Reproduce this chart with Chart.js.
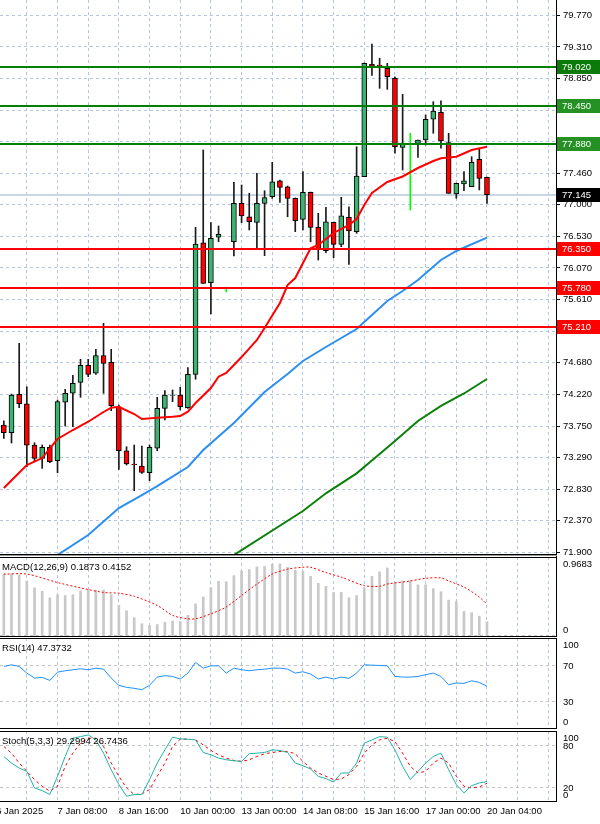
<!DOCTYPE html>
<html>
<head>
<meta charset="utf-8">
<script src="https://cdn.jsdelivr.net/npm/chart.js@4.4.1/dist/chart.umd.min.js"></script>
<style>
  body { margin: 0; background: #fff; width: 600px; height: 824px; overflow: hidden; position: relative; }
  canvas { position: absolute; left: 0; }
</style>
</head>
<body>
<canvas id="mainChart" width="600" height="560" style="top:0"></canvas>
<canvas id="macdChart" width="600" height="80" style="top:557px"></canvas>
<canvas id="rsiChart" width="600" height="91" style="top:638px"></canvas>
<canvas id="stochChart" width="600" height="93" style="top:731px"></canvas>
<script>
// 4H candles, one per bar slot (slot 0 = first visible bar)
const opens = [73.769, 73.656, 74.219, 74.081, 73.476, 73.281, 73.442, 73.246, 74.102, 74.234,
  74.395, 74.644, 74.527, 74.785, 74.688, 74.037, 73.392, 73.198, 73.168, 73.070,
  73.428, 74.014, 74.204, 74.209, 74.023, 74.512, 76.440, 75.854, 76.520, 75.718,
  76.455, 77.018, 76.821, 76.739, 77.018, 77.115, 77.349, 77.261, 77.091, 76.783,
  77.179, 76.666, 76.323, 76.739, 76.417, 76.813, 76.602, 77.408, 79.055, 79.044,
  78.996, 78.850, 77.838, 77.897, 77.897, 77.945, 78.249, 78.351, 77.906, 77.154,
  77.301, 77.261, 77.663, 77.399]
const highs = [73.832, 74.223, 74.966, 74.330, 73.510, 73.476, 73.476, 74.135, 74.292, 74.497,
  74.732, 74.732, 74.878, 75.259, 74.878, 74.062, 73.451, 73.476, 73.461, 73.476,
  74.175, 74.272, 74.282, 74.321, 74.609, 76.666, 77.799, 76.734, 76.685, 75.791,
  77.326, 77.286, 77.164, 77.457, 77.202, 77.619, 77.359, 77.271, 77.096, 77.481,
  77.183, 76.871, 76.959, 76.744, 77.106, 76.968, 77.847, 79.074, 79.352, 79.143,
  79.069, 78.873, 78.615, 78.044, 77.945, 78.312, 78.507, 78.521, 78.044, 77.315,
  77.481, 77.701, 77.809, 77.403]
const lows = [73.574, 73.505, 74.023, 73.158, 73.231, 73.134, 73.217, 73.070, 73.754, 73.744,
  74.175, 74.477, 74.512, 74.234, 73.979, 73.120, 73.183, 72.806, 73.061, 72.953,
  73.392, 73.842, 74.111, 73.989, 74.014, 74.439, 75.845, 75.396, 76.455, 75.718,
  76.246, 76.734, 76.627, 76.358, 76.250, 77.091, 77.032, 76.821, 76.602, 76.627,
  76.455, 76.187, 76.294, 76.221, 76.382, 76.124, 76.578, 77.408, 78.891, 78.703,
  78.688, 77.751, 77.506, 76.920, 77.692, 77.872, 78.044, 77.824, 77.164, 77.091,
  77.202, 77.261, 77.213, 77.018]
const closes = [73.656, 74.209, 74.081, 73.472, 73.281, 73.442, 73.231, 74.111, 74.234, 74.380,
  74.644, 74.512, 74.785, 74.673, 74.052, 73.392, 73.198, 73.189, 73.076, 73.442,
  74.014, 74.209, 74.209, 74.037, 74.512, 76.421, 75.845, 76.505, 76.564, 75.718,
  77.018, 76.832, 76.748, 77.018, 77.100, 77.334, 77.252, 77.091, 76.763, 77.179,
  76.666, 76.348, 76.748, 76.417, 76.836, 76.612, 77.418, 79.069, 79.030, 79.034,
  78.873, 77.847, 77.897, 77.897, 77.945, 78.249, 78.370, 77.931, 77.164, 77.311,
  77.349, 77.619, 77.384, 77.145]

// moving averages, read at the bars where they could be measured
const redMaBars = [0, 3, 5, 7, 9, 11, 13, 14, 15, 17, 18, 20, 22, 23, 24, 25, 27, 28, 29, 31,
  33, 34, 36, 37, 38, 40, 41, 43, 45, 46, 47, 48, 50, 52, 54, 56, 57, 59, 61, 63]
const redMa = [72.846, 73.183, 73.285, 73.564, 73.696, 73.817, 73.960, 74.023, 74.037, 73.930,
  73.857, 73.876, 73.891, 73.901, 73.964, 74.091, 74.311, 74.477, 74.531, 74.765,
  75.015, 75.190, 75.557, 75.821, 75.923, 76.358, 76.407, 76.583, 76.700, 76.788,
  76.993, 77.169, 77.330, 77.411, 77.535, 77.638, 77.677, 77.701, 77.799, 77.847]
const blueMaBars = [7, 11, 15, 18, 20, 24, 26, 30, 34, 37, 39, 42, 46, 50, 52, 54, 57, 59, 63]
const blueMa = [71.864, 72.157, 72.553, 72.743, 72.875, 73.154, 73.403, 73.798, 74.253, 74.516,
  74.707, 74.912, 75.176, 75.586, 75.733, 75.894, 76.187, 76.319, 76.514]
const greenMaBars = [30, 39, 42, 46, 49, 51, 54, 57, 60, 63]
const greenMa = [71.864, 72.509, 72.768, 73.061, 73.344, 73.535, 73.828, 74.048, 74.231, 74.443]

const resistanceLevels = [79.02, 78.45, 77.88]
const supportLevels = [76.35, 75.78, 75.21]
const lastPrice = 77.145
const priceTicks = [79.77, 79.31, 78.85, 78.38, 77.92, 77.46, 77.00, 76.53, 76.07, 75.61,
  75.14, 74.68, 74.22, 73.75, 73.29, 72.83, 72.37, 71.90]

const macdHist = [0.81, 0.81, 0.80, 0.72, 0.63, 0.585, 0.50, 0.54, 0.53, 0.54,
  0.59, 0.61, 0.60, 0.60, 0.54, 0.40, 0.33, 0.24, 0.16, 0.14,
  0.15, 0.18, 0.195, 0.19, 0.27, 0.42, 0.51, 0.63, 0.715, 0.71,
  0.79, 0.85, 0.87, 0.905, 0.91, 0.94, 0.945, 0.90, 0.86, 0.85,
  0.78, 0.69, 0.65, 0.57, 0.57, 0.50, 0.53, 0.63, 0.78, 0.84,
  0.89, 0.69, 0.72, 0.73, 0.67, 0.67, 0.62, 0.58, 0.47, 0.45,
  0.32, 0.305, 0.26, 0.1873]
const macdSignalBars = [0, 3, 7, 10, 13, 15, 17, 20, 22, 24, 25, 27, 29, 31, 33, 35, 37, 39, 40, 42,
  44, 47, 49, 50, 53, 55, 57, 58, 60, 62, 63]
const macdSignal = [0.81, 0.81, 0.70, 0.63, 0.57, 0.56, 0.52, 0.40, 0.27, 0.225, 0.225, 0.29, 0.38, 0.53, 0.68, 0.81, 0.875, 0.90, 0.90, 0.83,
  0.77, 0.66, 0.65, 0.68, 0.72, 0.755, 0.76, 0.72, 0.64, 0.51, 0.4152]
const macdMax = 0.9683

const rsiValues = [69.5, 71.3, 69.5, 62.1, 56.6, 57.3, 54.0, 63.2, 64.7, 65.8,
  66.9, 65.8, 67.6, 66.5, 56.6, 48.5, 46.3, 45.2, 43.7, 48.5,
  57.7, 59.2, 58.4, 55.5, 62.1, 73.9, 67.6, 70.2, 70.2, 62.1,
  67.6, 65.8, 64.7, 65.8, 66.5, 67.6, 67.6, 66.5, 62.1, 63.6,
  61.0, 55.5, 57.7, 55.5, 57.7, 56.2, 62.1, 71.3, 70.9, 70.6,
  70.2, 58.4, 57.7, 57.7, 58.4, 60.3, 62.1, 58.4, 49.2, 51.1,
  50.7, 53.6, 51.8, 47.3732]

const stochMain = [65, 55.6, 48.5, 43.8, 20.1, 16.3, 10.7, 36.7, 65, 91.1,
  93.4, 95.8, 88.7, 69.8, 46.1, 24.9, 8.3, 10.7, 10.7, 32,
  55.6, 74.5, 92.5, 90.1, 89.7, 88.7, 70.7, 67.4, 62.7, 60.3,
  58.9, 58, 68.8, 69.8, 70.7, 74.5, 73.6, 70.7, 55.6, 51.8,
  47.1, 36.7, 33.4, 28.6, 41.4, 41.4, 55.6, 84, 88.7, 93.4,
  92.5, 74.5, 50.9, 32, 43.8, 55.6, 65, 69.8, 46.1, 24.9,
  13, 23.4, 27.2, 29.2994]
const stochSignal = [79.3, 69.8, 55.6, 43.8, 32, 22.5, 15.4, 22.5, 50.9, 69.8,
  84, 91.1, 91.1, 79.3, 55.6, 36.7, 20.1, 10.7, 11.6, 17.8,
  36.7, 55.6, 79.3, 89.7, 89.7, 88.7, 81.6, 73.6, 67.4, 62.7,
  59.4, 58, 60.3, 65, 68.8, 70.7, 72.2, 72.2, 68.8, 58,
  48.5, 41.4, 36.7, 32, 32.9, 39.2, 50.9, 69.8, 81.6, 88.7,
  91.1, 86.3, 69.8, 50.9, 41.4, 43.8, 55.6, 62.7, 55.6, 36.7,
  22.5, 20.1, 21.5, 26.7436]

const timeLabelBars = [-1, 7, 15, 23, 31, 39, 47, 55, 63]
const timeLabels = ['6 Jan 2025', '7 Jan 08:00', '8 Jan 16:00', '10 Jan 00:00', '13 Jan 00:00',
  '14 Jan 08:00', '15 Jan 16:00', '17 Jan 00:00', '20 Jan 04:00']

const FONT = "'Liberation Sans', Arial, sans-serif"
const FONT_SIZE = 9.5
const gridColor = '#b4c5dc'
const gridSlots = []
for ( let s = 3; s < 72; s += 4 ) gridSlots.push(s)

const pts = ( xs, ys ) => xs.map(( x, i ) => ({ x: x, y: ys[i] }))
const series = ( ys ) => ys.map(( v, i ) => ({ x: i, y: v }))

function xScale( withLabels ) {
  return {
    type: 'linear', min: -0.5, max: 72, offset: false,
    afterBuildTicks: s => {
      s.ticks = (withLabels ? [-1] : []).concat(gridSlots).map(v => ({ value: v }))
    },
    grid: { color: gridColor, drawTicks: false, offset: false, borderDash: [3, 3] },
    border: { display: false, dash: [3, 3] },
    ticks: withLabels ? {
      autoSkip: false, maxRotation: 0, minRotation: 0, align: 'start', padding: 4,
      color: '#000', font: { family: FONT, size: FONT_SIZE },
      callback: v => {
        const k = timeLabelBars.indexOf(v)
        return k >= 0 ? timeLabels[k] : ''
      }
    } : { display: false },
    afterFit: s => {
      s.height = withLabels ? 22 : 0
      s.paddingLeft = 0
      s.paddingRight = 0
    }
  }
}

function panelY( min, max, lines ) {
  return {
    type: 'linear', position: 'right', min: min, max: max,
    afterBuildTicks: s => { s.ticks = lines.map(v => ({ value: v })) },
    ticks: { display: false },
    grid: { color: '#c4c4c4', drawTicks: false, borderDash: [3, 3] },
    border: { display: false, dash: [3, 3] },
    afterFit: s => { s.width = 44; s.paddingTop = 0; s.paddingBottom = 0 }
  }
}

function hline( ctx, a, py, color ) {
  const y = Math.round(py)
  ctx.strokeStyle = color
  ctx.beginPath()
  ctx.moveTo(a.left, y)
  ctx.lineTo(a.right, y)
  ctx.stroke()
}

function tag( ctx, a, py, text, bg ) {
  const y = Math.round(py)
  ctx.fillStyle = bg
  ctx.fillRect(a.right + 1, y - 7, 43, 14)
  ctx.fillStyle = '#fff'
  ctx.fillText(text, a.right + 6, y + 0.5)
}

const mainDecor = {
  id: 'mainDecor',
  beforeDatasetsDraw( chart ) {
    const { ctx, chartArea: a, scales: { y } } = chart
    ctx.save()
    ctx.lineWidth = 2
    hline(ctx, a, y.getPixelForValue(lastPrice), '#c8d5e5')
    ctx.restore()
  },
  afterDatasetsDraw( chart ) {
    const { ctx, chartArea: a, scales: { y } } = chart
    ctx.save()
    ctx.lineWidth = 2
    resistanceLevels.forEach(v => hline(ctx, a, y.getPixelForValue(v), '#008000'))
    supportLevels.forEach(v => hline(ctx, a, y.getPixelForValue(v), '#ff0000'))
    ctx.restore()
  },
  afterDraw( chart ) {
    const { ctx, chartArea: a, scales: { y } } = chart
    ctx.save()
    ctx.font = FONT_SIZE + 'px ' + FONT
    ctx.textBaseline = 'middle'
    resistanceLevels.forEach(( v, i ) => tag(ctx, a, y.getPixelForValue(v), v.toFixed(3), i === 0 ? '#0b7a0b' : '#259125'))
    supportLevels.forEach(v => tag(ctx, a, y.getPixelForValue(v), v.toFixed(3), '#ff0000'))
    tag(ctx, a, y.getPixelForValue(lastPrice), lastPrice.toFixed(3), '#000')
    // frame
    ctx.fillStyle = '#000'
    ctx.fillRect(a.right, 0, 1, a.bottom + 3)
    ctx.fillRect(0, a.bottom, a.right + 1, 1)
    ctx.fillStyle = '#9a9a9a'
    ctx.fillRect(0, a.bottom + 1, a.right + 1, 1)
    ctx.restore()
  }
}

function panelDecor( title, axisLabels ) {
  return {
    id: 'panelDecor',
    afterDraw( chart ) {
      const { ctx, chartArea: a, scales: { y } } = chart
      ctx.save()
      ctx.fillStyle = '#000'
      ctx.fillRect(0, a.top, a.right + 1, 1)
      ctx.fillRect(0, a.bottom - 1, a.right + 1, 1)
      ctx.fillRect(a.right, a.top, 1, a.bottom - a.top)
      ctx.font = FONT_SIZE + 'px ' + FONT
      ctx.textBaseline = 'middle'
      ctx.fillText(title, 2, a.top + 10)
      axisLabels.forEach(( [v, txt] ) => {
        let py = y.getPixelForValue(v)
        py = Math.min(Math.max(py, a.top + 7), a.bottom - 7)
        ctx.fillText(txt, a.right + 7, py)
      })
      ctx.restore()
    }
  }
}

const common = {
  responsive: false, animation: false, devicePixelRatio: 1, events: [],
  plugins: { legend: { display: false }, tooltip: { enabled: false } }
}

// main price chart
const candleUp = opens.map(( o, i ) => closes[i] > o)
const candleFlat = opens.map(( o, i ) => closes[i] === o)
new Chart(document.getElementById('mainChart'), {
  type: 'bar',
  data: {
    datasets: [
      {
        type: 'line', data: pts(greenMaBars, greenMa), borderColor: '#0a800a', borderWidth: 2,
        pointRadius: 0, tension: 0, order: 1
      },
      {
        type: 'line', data: pts(blueMaBars, blueMa), borderColor: '#2b8ff0', borderWidth: 2,
        pointRadius: 0, tension: 0, order: 1
      },
      {
        type: 'line', data: pts(redMaBars, redMa), borderColor: '#ff0000', borderWidth: 2,
        pointRadius: 0, tension: 0, order: 1
      },
      {
        data: opens.map(( o, i ) => ({ x: i, y: [o, closes[i]] })),
        backgroundColor: opens.map(( o, i ) => candleFlat[i] ? '#00ff00' : candleUp[i] ? '#3cb371' : '#ff0000'),
        borderColor: opens.map(( o, i ) => candleFlat[i] ? '#00ff00' : '#000'),
        borderWidth: 1, borderSkipped: false, barThickness: 5, grouped: false, order: 2
      },
      {
        data: opens.map(( o, i ) => ({ x: i, y: [lows[i], highs[i]] })),
        backgroundColor: opens.map(( o, i ) => candleFlat[i] ? '#00ff00' : '#1a1a1a'),
        borderWidth: 0, barThickness: 1, grouped: false, order: 3
      }
    ]
  },
  options: Object.assign({}, common, {
    layout: { padding: { bottom: 6 } },
    scales: {
      x: xScale(false),
      y: {
        type: 'linear', position: 'right', min: 71.879, max: 79.997,
        afterBuildTicks: s => { s.ticks = priceTicks.map(v => ({ value: v })) },
        ticks: { color: '#000', padding: 3, font: { family: FONT, size: FONT_SIZE }, callback: v => v.toFixed(3) },
        grid: { color: gridColor, tickColor: '#000', tickLength: 4, tickBorderDash: [], borderDash: [3, 3] },
        border: { display: false, dash: [3, 3] },
        afterFit: s => { s.width = 44; s.paddingTop = 0; s.paddingBottom = 0 }
      }
    }
  }),
  plugins: [mainDecor]
})

// MACD
new Chart(document.getElementById('macdChart'), {
  type: 'bar',
  data: {
    datasets: [
      {
        type: 'line', data: pts(macdSignalBars, macdSignal), borderColor: '#ff0000', borderWidth: 1,
        borderDash: [2, 2], pointRadius: 0, tension: 0.3, order: 1
      },
      { data: series(macdHist), backgroundColor: '#c8c8c8', barThickness: 2, order: 2 }
    ]
  },
  options: Object.assign({}, common, {
    scales: { x: xScale(false), y: panelY(-0.0131, 1.034, [0]) }
  }),
  plugins: [panelDecor('MACD(12,26,9) ' + macdHist[macdHist.length - 1].toFixed(4) + ' ' +
    macdSignal[macdSignal.length - 1].toFixed(4), [[macdMax, macdMax.toFixed(4)], [0, '0']])]
})

// RSI
new Chart(document.getElementById('rsiChart'), {
  type: 'line',
  data: {
    datasets: [
      { data: series(rsiValues), borderColor: '#1e90ff', borderWidth: 1, pointRadius: 0, tension: 0 }
    ]
  },
  options: Object.assign({}, common, {
    scales: { x: xScale(false), y: panelY(0, 101.1, [30, 70]) }
  }),
  plugins: [panelDecor('RSI(14) ' + rsiValues[rsiValues.length - 1].toFixed(4),
    [[100, '100'], [70, '70'], [30, '30'], [0, '0']])]
})

// Stochastic
new Chart(document.getElementById('stochChart'), {
  type: 'line',
  data: {
    datasets: [
      { data: series(stochMain), borderColor: '#20b2aa', borderWidth: 1, pointRadius: 0, tension: 0 },
      { data: series(stochSignal), borderColor: '#ff0000', borderWidth: 1, borderDash: [3, 3], pointRadius: 0, tension: 0 }
    ]
  },
  options: Object.assign({}, common, {
    scales: { x: xScale(true), y: panelY(0, 101.4, [20, 80]) }
  }),
  plugins: [panelDecor('Stoch(5,3,3) ' + stochMain[stochMain.length - 1].toFixed(4) + ' ' +
    stochSignal[stochSignal.length - 1].toFixed(4), [[100, '100'], [80, '80'], [20, '20'], [0, '0']])]
})
</script>
</body>
</html>
